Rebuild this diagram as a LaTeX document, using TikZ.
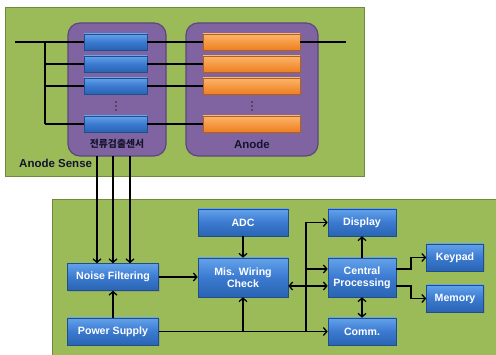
\documentclass[tikz,border=0pt]{standalone}
\usepackage{fontspec}
\setmainfont{Liberation Sans}
\newfontfamily\kr{Noto Sans CJK KR}
\usetikzlibrary{arrows.meta,shadows}
\definecolor{grn}{HTML}{9BBB59}
\definecolor{grnd}{HTML}{6E8A3A}
\definecolor{purp}{HTML}{8064A2}
\definecolor{purpd}{HTML}{5C4680}
\definecolor{bluT}{HTML}{63A2EA}
\definecolor{bluM}{HTML}{3B7AD0}
\definecolor{bluB}{HTML}{2A64B2}
\definecolor{bluD}{HTML}{1F4E8C}
\definecolor{orgT}{HTML}{FDB56A}
\definecolor{orgB}{HTML}{EE7F1F}
\definecolor{orgD}{HTML}{B5601A}
\tikzset{
  panel/.style={fill=grn,draw=grnd,line width=1.2pt,anchor=north west,inner sep=0pt},
  group/.style={fill=purp,draw=purpd,line width=1.2pt,rounded corners=12pt,inner sep=0pt},
  smallblue/.style={top color=bluT,bottom color=bluB,middle color=bluM,draw=bluD,line width=0.6pt,minimum width=63pt,minimum height=16pt,inner sep=0pt,drop shadow={shadow xshift=0.8pt,shadow yshift=-1pt,opacity=0.35}},
  smallorg/.style={top color=orgT,bottom color=orgB,draw=orgD,line width=0.6pt,minimum width=97pt,minimum height=16pt,inner sep=0pt,drop shadow={shadow xshift=0.8pt,shadow yshift=-1pt,opacity=0.35}},
  blk/.style={top color=bluT,bottom color=bluB,middle color=bluM,draw=bluD,line width=0.6pt,inner sep=0pt,text=white,font=\bfseries\fontsize{10.6}{12}\selectfont,align=center,drop shadow={shadow xshift=1pt,shadow yshift=-1.2pt,opacity=0.35}},
  wire/.style={line width=1.3pt,black},
  arr/.style={line width=1.5pt,black,-{Straight Barb[length=3.5pt,width=8pt,line width=1.3pt]}},
  arrb/.style={line width=1.5pt,black,{Straight Barb[length=3.5pt,width=8pt,line width=1.3pt]}-{Straight Barb[length=3.5pt,width=8pt,line width=1.3pt]}},
  lbl/.style={font=\bfseries\fontsize{11.5}{12}\selectfont,text={rgb,255:red,20;green,20;blue,45},inner sep=0pt}
}
\begin{document}
\begin{tikzpicture}[x=1pt,y=-1pt]
\useasboundingbox (0,0) rectangle (496,355);
% panels
\node[panel,minimum width=359pt,minimum height=169pt] (top) at (5,7) {};
\node[panel,minimum width=450pt,minimum height=160pt] (bot) at (52,199) {};
\node[lbl,anchor=west] (asense) at (19,163) {Anode Sense};
% groups
\node[group,minimum width=98pt,minimum height=133pt] (sens) at (117,89.5) {};
\node[group,minimum width=132pt,minimum height=133pt] (anode) at (252,89.5) {};
% bars
\node[smallblue] (b1) at (115.5,42) {};
\node[smallblue] (b2) at (115.5,64) {};
\node[smallblue] (b3) at (115.5,86) {};
\node[smallblue] (b4) at (115.5,124) {};
\node[smallorg] (o1) at (251.5,42) {};
\node[smallorg] (o2) at (251.5,64) {};
\node[smallorg] (o3) at (251.5,86) {};
\node[smallorg] (o4) at (251.5,124) {};
\foreach \yy in {102,106,110} {
  \fill[black!85] (116,\yy) circle (0.9pt);
  \fill[black!85] (252,\yy) circle (0.9pt);
}
\node[lbl,font=\kr\bfseries\fontsize{9.8}{11}\selectfont] (senslbl) at (117,144) {전류검출센서};
\node[lbl] (anodelbl) at (252,144) {Anode};
% wires
\coordinate (L0) at (15,42);
\coordinate (R0) at (346,42);
\coordinate (V) at (45,42);
\draw[wire] (L0) -- (b1.west);
\draw[wire] (b1.east) -- (o1.west);
\draw[wire] (o1.east) -- (R0);
\draw[wire] (V) -- (V |- b4.west);
\draw[wire] (V |- b2.west) -- (b2.west);
\draw[wire] (V |- b3.west) -- (b3.west);
\draw[wire] (V |- b4.west) -- (b4.west);
\draw[wire] (b2.east) -- (o2.west);
\draw[wire] (b3.east) -- (o3.west);
\draw[wire] (b4.east) -- (o4.west);
% blocks
\node[blk,minimum width=91pt,minimum height=27pt] (nf) at (113,277) {Noise Filtering};
\node[blk,minimum width=91pt,minimum height=27pt] (ps) at (113,331.5) {Power Supply};
\node[blk,minimum width=90pt,minimum height=27pt] (adc) at (243,222.5) {ADC};
\node[blk,minimum width=90pt,minimum height=39pt] (mis) at (243,277.5) {Mis. Wiring\\Check};
\node[blk,minimum width=68pt,minimum height=27pt] (disp) at (362,222.5) {Display};
\node[blk,minimum width=68pt,minimum height=39pt] (cp) at (362,277.5) {Central\\Processing};
\node[blk,minimum width=68pt,minimum height=27pt] (comm) at (362,331.5) {Comm.};
\node[blk,minimum width=57pt,minimum height=27pt] (key) at (455,257.5) {Keypad};
\node[blk,minimum width=57pt,minimum height=27pt] (mem) at (455,298.5) {Memory};
% sensor outputs
\coordinate (s1) at (97,156);
\coordinate (s2) at (113,156);
\coordinate (s3) at (130,156);
\draw[arr] (s1) -- (s1 |- nf.north);
\draw[arr] (s2) -- (s2 |- nf.north);
\draw[arr] (s3) -- (s3 |- nf.north);
% connectors
\draw[arr] (nf.east) -- (mis.west |- nf.east);
\draw[arr] (adc.south) -- (mis.north);
\draw[arr] (ps.north) -- (nf.south);
\draw[arr] (ps.east) -- (comm.west);
\draw[arr] (mis.south |- ps.east) -- (mis.south);
\coordinate (bus) at (306,222.5);
\coordinate (ya) at (0,269);
\coordinate (yb) at (0,286);
\draw[wire,line width=1.5pt] (bus |- ps.east) -- (bus);
\draw[arr] (bus) -- (disp.west);
\draw[arr] (bus |- ya) -- (cp.west |- ya);
\draw[arrb] (mis.east |- yb) -- (cp.west |- yb);
\draw[arr] (cp.north) -- (disp.south);
\draw[arrb] (cp.south) -- (comm.north);
\coordinate (kx) at (411,0);
\draw[arr] (cp.east |- ya) -- (kx |- ya) -- (kx |- key.west) -- (key.west);
\draw[arr] (cp.east |- yb) -- (kx |- yb) -- (kx |- mem.west) -- (mem.west);
\end{tikzpicture}
\end{document}
